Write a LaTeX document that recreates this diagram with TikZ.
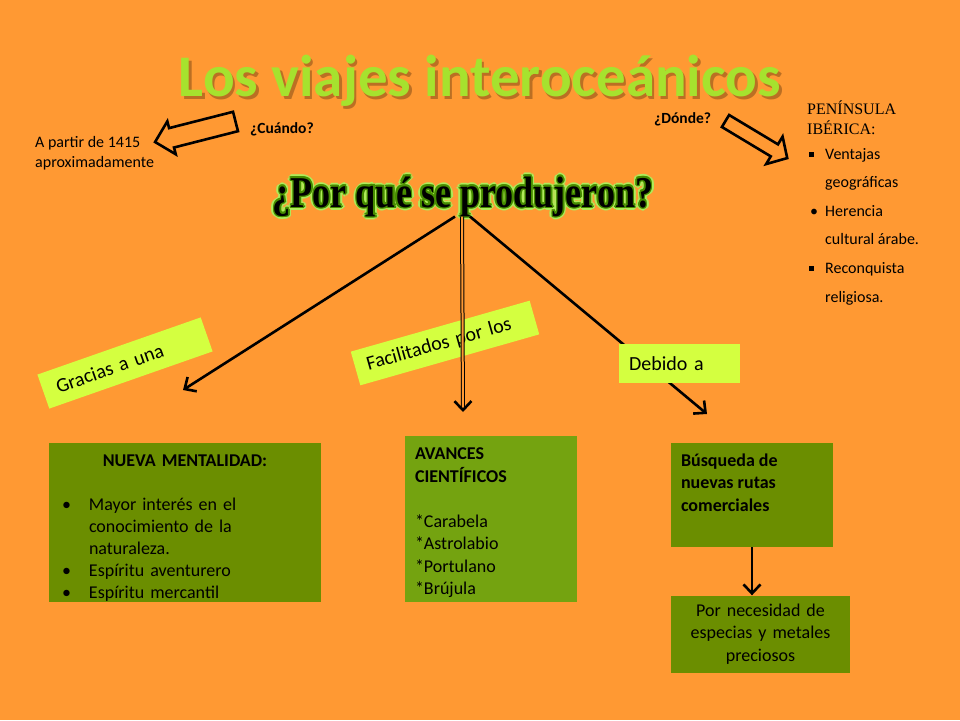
\documentclass[tikz,border=0pt]{standalone}
\usepackage{fontspec}
\setmainfont{Carlito}
\newfontfamily\timesfont{Liberation Serif}
\usepackage{tikz}
\usetikzlibrary{arrows.meta,positioning}

\definecolor{bgorange}{RGB}{255,153,51}
\definecolor{boxgreen}{RGB}{107,142,0}
\definecolor{boxgreenb}{RGB}{116,163,16}
\definecolor{tagyellow}{RGB}{212,255,64}
\definecolor{titlelime}{RGB}{166,226,46}
\definecolor{shadowbrown}{RGB}{120,70,20}
\definecolor{glowdark}{RGB}{70,140,0}
\definecolor{glowlight}{RGB}{175,235,90}

\newcommand{\sqitem}{\makebox[16pt][l]{\rule[2.5pt]{5pt}{5pt}}}
\newcommand{\dotitem}{\makebox[16pt][l]{\hspace{1pt}\textbullet}}
\newcommand{\bulitem}{\makebox[27pt][l]{\textbullet}}
\newcommand{\whytitle}{\scalebox{0.82}[1]{¿Por qué se produjeron?}}

\begin{document}
\begin{tikzpicture}[x=1pt, y=-1pt,
  greenbox/.style={fill=boxgreen, inner sep=0pt, font=\fontsize{18}{22.5}\selectfont},
  tag/.style={fill=tagyellow, inner xsep=12pt, inner ysep=0pt, align=left,
              font=\fontsize{20}{24}\selectfont},
  note/.style={inner sep=0pt, align=left, font=\fontsize{16}{20}\selectfont},
  ask/.style={inner sep=0pt, font=\bfseries\fontsize{15.5}{18}\selectfont},
  whytext/.style={anchor=base, inner sep=0pt,
                  font=\timesfont\bfseries\fontsize{44}{44}\selectfont},
  blockarrow/.style={draw=black, line width=2.6pt, fill=bgorange, line join=miter},
  link/.style={line width=2.6pt, -{Straight Barb[length=9pt, width=17pt, line width=2.6pt]}},
  dlink/.style={double=bgorange, double distance=2pt, line width=1pt,
                -{Straight Barb[length=9pt, width=17pt, line width=2.6pt]}}]

  \useasboundingbox (0,0) rectangle (960,720);
  \fill[bgorange] (0,0) rectangle (960,720);

  % title
  \node[anchor=base, inner sep=0pt, text=shadowbrown, opacity=0.5,
        font=\bfseries\fontsize{59}{59}\selectfont] (titleshadow) at (482.5,99) {Los viajes interoceánicos};
  \node[anchor=base, inner sep=0pt, text=titlelime,
        font=\bfseries\fontsize{59}{59}\selectfont] (title) at (480,96) {Los viajes interoceánicos};

  % when
  \node[ask, anchor=base west] (when) at (250,133) {¿Cuándo?};
  \node[note, anchor=base west] (whendate) at (35,167) {A partir de 1415\\aproximadamente};
  \begin{scope}[shift={(235.5,121.5)}, rotate=194.3]
    \draw[blockarrow] (0,-10) -- (66,-10) -- (66,-17) -- (83,0) -- (66,17) -- (66,10) -- (0,10) -- cycle;
  \end{scope}

  % where
  \node[ask, anchor=base west] (where) at (654,123) {¿Dónde?};
  \begin{scope}[shift={(725.5,121)}, rotate=-31]
    \draw[blockarrow] (0,-7) -- (57,-7) -- (57,-16) -- (72,0) -- (57,16) -- (57,7) -- (0,7) -- cycle;
  \end{scope}
  \node[anchor=base west, inner sep=0pt, align=left,
        font=\timesfont\fontsize{16}{20}\selectfont] (iberia) at (807,134) {PENÍNSULA\\IBÉRICA:};
  \node[anchor=base west, inner sep=0pt, align=left,
        font=\fontsize{16}{28.6}\selectfont] (iberialist) at (809,302)
    {\sqitem Ventajas\\ \hspace*{16pt}geográficas\\ \dotitem Herencia\\
     \hspace*{16pt}cultural árabe.\\ \sqitem Reconquista\\ \hspace*{16pt}religiosa.};

  % why
  \foreach \a in {0,30,...,330}
    \node[whytext, text=glowlight] (glowout\a) at ([shift={(\a:3.2pt)}]463,207) {\whytitle};
  \foreach \a in {0,45,...,315}
    \node[whytext, text=glowdark] (glowin\a) at ([shift={(\a:1.6pt)}]463,207) {\whytitle};
  \node[whytext, text=black] (why) at (463,207) {\whytitle};

  \coordinate (tipmental) at (183,390);
  \coordinate (tipavances) at (463,412);
  \coordinate (tipbusq) at (707,414);

  \node[tag, text width=162pt, minimum height=35pt, rotate=15.9] (facil) at (445,343) {Facilitados por los};

  \draw[link] ([xshift=-8pt]why.south) -- (tipmental);
  \draw[dlink] ([xshift=-1pt]why.south) -- (tipavances);
  \draw[link] ([xshift=7pt]why.south) -- (tipbusq);

  \node[tag, inner xsep=14pt, text width=145pt, minimum height=36pt, rotate=19.3] (gracias) at (125,363) {Gracias a una};
  \node[tag, inner xsep=10pt, text width=101pt, minimum height=39pt] (debido) at (679.5,363.5) {Debido a};

  % boxes
  \node[greenbox, minimum width=272pt, minimum height=159pt, text width=250pt, align=left,
        font=\fontsize{18}{22}\selectfont] (mental) at (185,522.5)
    {\rule{0pt}{22pt}\makebox[\linewidth]{\bfseries NUEVA MENTALIDAD:}\\[22pt]
     \hspace*{2pt}\bulitem Mayor interés en el\\ \hspace*{29pt}conocimiento de la\\ \hspace*{29pt}naturaleza.\\
     \hspace*{2pt}\bulitem Espíritu aventurero\\ \hspace*{2pt}\bulitem Espíritu mercantil};
  \node[greenbox, fill=boxgreenb, minimum width=172pt, minimum height=166pt, text width=152pt,
        align=left] (avances) at (491,519)
    {\rule{0pt}{20pt}\textbf{AVANCES}\\\textbf{CIENTÍFICOS}\\[22.5pt] {*}Carabela\\{*}Astrolabio\\{*}Portulano\\{*}Brújula};
  \node[greenbox, minimum width=162pt, minimum height=104pt] (busq) at (752,495)
    {\parbox[c][104pt][t]{142pt}{\bfseries\rule{0pt}{23pt}Búsqueda de\\nuevas rutas\\comerciales}};
  \node[greenbox, minimum width=179pt, minimum height=77pt, text width=170pt, align=center]
    (necesidad) at (760.5,634) {Por necesidad de\\especias y metales\\preciosos};

  \draw[link] (busq.south) -- (busq.south |- necesidad.north);
\end{tikzpicture}
\end{document}
